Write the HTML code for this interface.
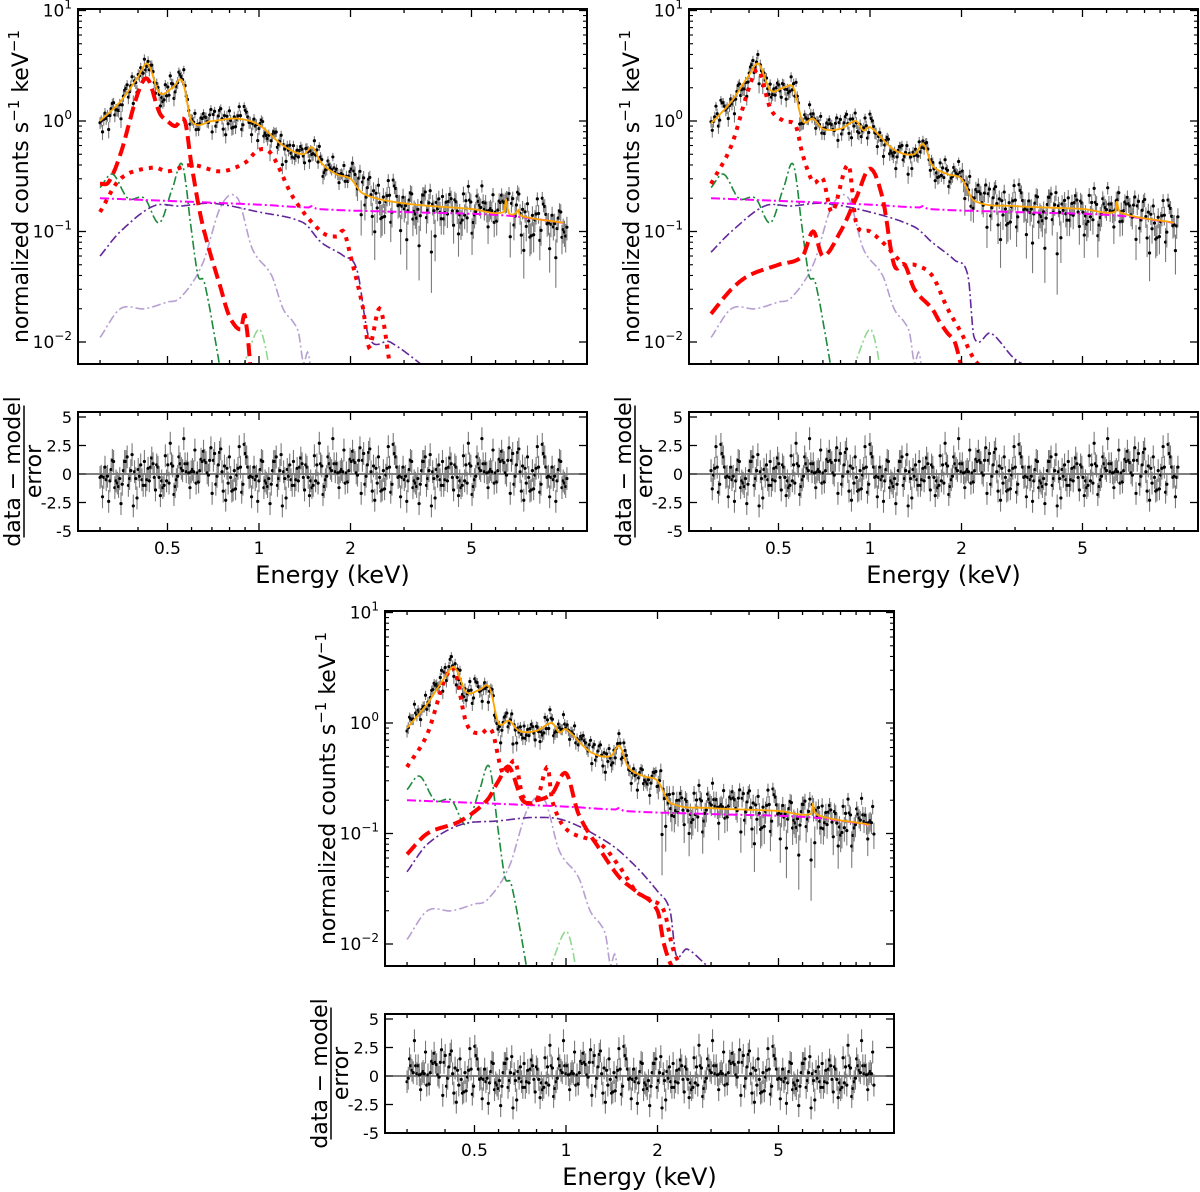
<!DOCTYPE html>
<html><head><meta charset="utf-8">
<style>
html,body{margin:0;padding:0;background:#fff;}
svg{display:block;font-family:"DejaVu Sans","Liberation Sans",sans-serif;}
</style></head>
<body>
<svg id="fig" width="1200" height="1192" viewBox="0 0 1200 1192" xmlns="http://www.w3.org/2000/svg"></svg>
<script>
// ---------- data (energy keV, normalized counts s^-1 keV^-1) ----------
const p1Total=[[0.3,1.0],[0.35,1.5],[0.4,2.5],[0.43,3.3],[0.47,1.8],[0.52,2.0],[0.56,2.3],[0.6,1.0],[0.7,1.0],[0.85,1.05],[1.0,0.92],[1.2,0.6],[1.4,0.5],[1.5,0.58],[1.6,0.42],[1.8,0.33],[2.0,0.3],[2.2,0.22],[3,0.18],[5,0.16],[6.4,0.15],[6.5,0.2],[6.6,0.15],[7,0.145],[7.1,0.16],[7.2,0.14],[10,0.12]];
const p1RedDashed=[[0.3,0.27],[0.32,0.28],[0.35,0.5],[0.4,1.8],[0.43,2.4],[0.47,1.2],[0.5,1.0],[0.53,0.9],[0.57,1.0],[0.6,0.4],[0.65,0.12],[0.75,0.03],[0.8,0.017],[0.87,0.013],[0.9,0.017],[0.95,0.004]];
const p1RedDotted=[[0.3,0.15],[0.35,0.3],[0.45,0.38],[0.5,0.35],[0.6,0.4],[0.75,0.35],[0.9,0.42],[1.0,0.55],[1.1,0.5],[1.3,0.2],[1.6,0.1],[1.8,0.09],[1.9,0.1],[2.0,0.06],[2.2,0.02],[2.3,0.009],[2.5,0.02],[2.7,0.006]];
const p1Purple=[[0.3,0.06],[0.35,0.1],[0.45,0.17],[0.55,0.17],[0.7,0.18],[1.0,0.15],[1.4,0.12],[1.6,0.08],[1.9,0.06],[2.1,0.045],[2.3,0.011],[2.7,0.01],[3.8,0.005]];
const p2Total=[[0.3,0.95],[0.35,1.5],[0.4,2.6],[0.43,3.3],[0.47,1.9],[0.52,2.0],[0.56,2.0],[0.6,1.0],[0.65,1.05],[0.7,0.85],[0.8,0.85],[0.9,1.0],[0.95,0.82],[1.0,0.88],[1.2,0.55],[1.4,0.5],[1.5,0.62],[1.6,0.4],[1.8,0.33],[2.0,0.3],[2.2,0.19],[3,0.17],[5,0.16],[6.4,0.15],[6.5,0.19],[6.6,0.15],[10,0.12]];
const p2RedDotted=[[0.3,0.27],[0.35,0.6],[0.4,2.0],[0.43,2.9],[0.47,1.3],[0.52,1.0],[0.57,0.9],[0.6,0.5],[0.65,0.28],[0.7,0.3],[0.75,0.15],[0.85,0.4],[0.9,0.12],[1.0,0.1],[1.1,0.08],[1.3,0.05],[1.4,0.05],[1.6,0.04],[1.8,0.02],[2.0,0.012],[2.2,0.007],[2.5,0.005]];
const p2RedDashed=[[0.3,0.018],[0.35,0.03],[0.4,0.04],[0.5,0.05],[0.6,0.06],[0.65,0.1],[0.7,0.06],[0.8,0.1],[0.9,0.2],[1.0,0.37],[1.1,0.2],[1.2,0.05],[1.3,0.05],[1.4,0.03],[1.6,0.02],[1.7,0.015],[1.8,0.012],[1.9,0.01],[2.0,0.006],[2.1,0.004]];
const p2Purple=[[0.3,0.065],[0.35,0.1],[0.45,0.17],[0.55,0.17],[0.7,0.18],[1.0,0.15],[1.4,0.11],[1.6,0.08],[1.9,0.055],[2.1,0.04],[2.2,0.011],[2.5,0.012],[3,0.007],[3.8,0.005]];
const p3Total=[[0.3,0.9],[0.35,1.5],[0.4,2.6],[0.43,3.2],[0.47,1.9],[0.52,2.0],[0.56,2.1],[0.6,1.0],[0.65,1.05],[0.7,0.85],[0.8,0.85],[0.9,1.0],[0.95,0.82],[1.0,0.88],[1.2,0.55],[1.4,0.5],[1.5,0.62],[1.6,0.4],[1.8,0.33],[2.0,0.3],[2.2,0.19],[3,0.17],[5,0.16],[6.4,0.15],[6.5,0.19],[6.6,0.15],[10,0.12]];
const p3RedDotted=[[0.3,0.4],[0.35,0.8],[0.4,2.5],[0.43,3.0],[0.47,1.0],[0.52,0.8],[0.57,0.85],[0.62,0.35],[0.68,0.45],[0.72,0.22],[0.8,0.2],[0.87,0.4],[0.9,0.2],[1.0,0.11],[1.3,0.08],[1.5,0.05],[1.7,0.03],[1.9,0.025],[2.1,0.02],[2.25,0.009],[2.5,0.005]];
const p3RedDashed=[[0.3,0.065],[0.35,0.1],[0.45,0.13],[0.55,0.2],[0.6,0.3],[0.65,0.4],[0.72,0.2],[0.8,0.2],[0.9,0.23],[1.0,0.35],[1.1,0.15],[1.3,0.07],[1.5,0.04],[1.7,0.03],[2.0,0.02],[2.1,0.01],[2.25,0.006],[2.5,0.005]];
const p3Purple=[[0.3,0.045],[0.35,0.08],[0.45,0.12],[0.6,0.13],[0.8,0.14],[1.0,0.13],[1.4,0.08],[1.7,0.05],[2.0,0.03],[2.2,0.02],[2.3,0.008],[2.5,0.009],[3,0.006],[3.6,0.005]];
const greenComp=[[0.3,0.25],[0.33,0.33],[0.37,0.2],[0.42,0.2],[0.47,0.12],[0.52,0.25],[0.56,0.4],[0.6,0.1],[0.63,0.04],[0.66,0.035],[0.72,0.01],[0.76,0.004]];
const lightPurpleComp=[[0.3,0.011],[0.35,0.02],[0.42,0.02],[0.5,0.023],[0.55,0.025],[0.65,0.05],[0.75,0.17],[0.85,0.2],[0.95,0.07],[1.1,0.04],[1.2,0.02],[1.3,0.015],[1.35,0.012],[1.4,0.0065],[1.45,0.008],[1.5,0.004]];
const lightGreenComp=[[0.85,0.004],[0.92,0.008],[1.0,0.013],[1.05,0.009],[1.1,0.004]];
const magentaComp=[[0.3,0.2],[1.0,0.175],[1.45,0.165],[1.5,0.17],[1.55,0.16],[3,0.15],[6.4,0.14],[10,0.12]];
const residuals=[-0.3,-1,-0.8,-1,0.1,-0.9,0.2,-0.2,1.6,1.5,1.1,-0.1,0.3,0.9,-2,-0.6,-0.3,-1,1.2,1.1,0.1,-0.3,0.8,-1.5,-0.5,2.3,1.1,-1.2,0.6,-0.8,-1.4,0.5,-1.7,1.5,0.2,-0.5,2.7,0.3,-0.6,1.2,-1,0.4,-0.2,0.9,-1.3,0.6,1.8,-0.4,0.2,-2.4,0.7,-0.1,1.4,-0.9,0.3,2.1,-0.6,-1.8,0.5,0.9,-0.2,1.7,-0.8,0.4,-1.1,2.4,-0.3,0.8,-2.8,0.1,1.2,-0.5,0.6,-1.4,1.9,0.2,-0.7,1.1,-0.2,-1.6,0.8,2.2,-0.4,0.3,-1.2,1.5,-0.9,0.6,0.2,-2.1,1.3,-0.6,0.9,2.6,-0.3,-1.5,0.4,1.1,-0.8,0.5,1.8,-1.9,0.7,-0.2,2.0,-1.1,0.3,1.5,-0.6,-2.3,0.8,1.2,-0.4,3.1,0.6,-1.2,0.5,-0.5,1.0,-2.6,0.9];
const xTickValues=[0.5,1,2,5];
const xTickLabels=["0.5","1","2","5"];
const yDecades=[-2,-1,0,1];
const residTickValues=[5,2.5,0,-2.5,-5];
const residTickLabels=["5","2.5","0","-2.5","-5"];

// ---------- drawing ----------
const NS="http://www.w3.org/2000/svg";
const svg=document.getElementById('fig');
function mk(tag,attrs,parent){const e=document.createElementNS(NS,tag);for(const k in attrs)e.setAttribute(k,attrs[k]);(parent||svg).appendChild(e);return e;}
const L=78,R=587,T=9,B=364,RT=412,RB=531;
function xs(E){return 259+304*Math.log10(E);}
function ys(v){return 121-110.5*Math.log10(v);}
function rs(r){return 474-11.4*r;}
function interp(arr,E){
  if(E<=arr[0][0])return arr[0][1];
  const n=arr.length;
  if(E>=arr[n-1][0])return arr[n-1][1];
  const lx=Math.log(E);
  for(let i=1;i<n;i++){if(E<=arr[i][0]){
    const X=k=>Math.log(arr[Math.max(0,Math.min(n-1,k))][0]);
    const Y=k=>Math.log(arr[Math.max(0,Math.min(n-1,k))][1]);
    const x1=X(i-1),x2=X(i),y1=Y(i-1),y2=Y(i);
    const t=(lx-x1)/(x2-x1);
    const s1=(i-2>=0)?(y2-Y(i-2))/(x2-X(i-2)):(y2-y1)/(x2-x1);
    const s2=(i+1<n)?(Y(i+1)-y1)/(X(i+1)-x1):(y2-y1)/(x2-x1);
    const h=x2-x1,t2=t*t,t3=t2*t;
    const y=(2*t3-3*t2+1)*y1+(t3-2*t2+t)*h*s1+(-2*t3+3*t2)*y2+(t3-t2)*h*s2;
    return Math.exp(y);
  }}
}
function curvePath(arr){
  let d='';const E0=arr[0][0],E1=arr[arr.length-1][0];const n=300;
  for(let i=0;i<=n;i++){const E=E0*Math.pow(E1/E0,i/n);d+=(i?'L':'M')+xs(E).toFixed(1)+','+ys(interp(arr,E)).toFixed(1);}
  return d;
}
const styles={
  lightPurple:{stroke:'#b79fd2','stroke-width':1.6,'stroke-dasharray':'9,3,2,3'},
  lightGreen:{stroke:'#8fd88f','stroke-width':1.6,'stroke-dasharray':'9,3,2,3'},
  green:{stroke:'#1b8a3a','stroke-width':1.6,'stroke-dasharray':'9,3,2,3'},
  purple:{stroke:'#64279a','stroke-width':1.6,'stroke-dasharray':'9,3,2,3'},
  magenta:{stroke:'#ff00ff','stroke-width':2,'stroke-dasharray':'9,3,2,3'},
  redDashed:{stroke:'#ff0000','stroke-width':4,'stroke-dasharray':'13,6'},
  redDotted:{stroke:'#ff0000','stroke-width':4,'stroke-dasharray':'4,6'},
  total:{stroke:'#ffa500','stroke-width':1.8}
};
function drawPanel(idx,ox,oy,total,redDashed,redDotted,purple,shift){
  const g=mk('g',{transform:`translate(${ox},${oy})`});
  
  
  const cid='clip'+idx;
  const cp=mk('clipPath',{id:cid},g);mk('rect',{x:L,y:T,width:R-L,height:B-T},cp);
  const cpr=mk('clipPath',{id:cid+'r'},g);mk('rect',{x:L,y:RT,width:R-L,height:RB-RT},cpr);
  const plot=mk('g',{'clip-path':`url(#${cid})`},g);
  
  
  const N=380,Emin=0.3,Emax=10.3;
  const dg=mk('g',{},plot);
  
  
  const rg=mk('g',{'clip-path':`url(#${cid}r)`},g);
  
  
  mk('line',{x1:L,x2:R,y1:rs(0),y2:rs(0),stroke:'#000','stroke-width':1},rg);
  for(let i=0;i<N;i++){
    const E=Emin*Math.pow(Emax/Emin,i/(N-1));
    const r=residuals[(i*7+shift)%residuals.length];
    const m=interp(total,E);
    const f=E<2?0.12:0.22;
    const v=m*(1+f*r),e=m*f;
    const x=xs(E);
    mk('line',{x1:x,x2:x,y1:ys(v+e),y2:ys(Math.max(v-e,1e-4)),stroke:'#7a7a7a','stroke-width':1.1},dg);
    mk('circle',{cx:x,cy:ys(v),r:1.6,fill:'#000'},dg);
    mk('line',{x1:x,x2:x,y1:rs(r+1),y2:rs(r-1),stroke:'#7a7a7a','stroke-width':1.1},rg);
    mk('circle',{cx:x,cy:rs(r),r:1.6,fill:'#000'},rg);
  }
  const comps=[['light-purple-component',lightPurpleComp,'lightPurple'],['light-green-component',lightGreenComp,'lightGreen'],['green-component',greenComp,'green'],['purple-component',purple,'purple'],['magenta-powerlaw',magentaComp,'magenta'],['red-dashed-component',redDashed,'redDashed'],['red-dotted-component',redDotted,'redDotted'],['total-model',total,'total']];
  for(const [name,arr,st] of comps){
    const p=mk('path',Object.assign({d:curvePath(arr),fill:'none'},styles[st]),plot);
    
    
  }
  const f1=mk('rect',{x:L,y:T,width:R-L,height:B-T,fill:'none',stroke:'#000','stroke-width':2},g);
  
  
  const f2=mk('rect',{x:L,y:RT,width:R-L,height:RB-RT,fill:'none',stroke:'#000','stroke-width':2},g);
  
  
  const minor=[0.3,0.4,0.6,0.7,0.8,0.9,3,4,6,7,8,9,10];
  function xt(E,len){const x=xs(E);
    for(const [y0,dir] of [[B,-1],[T,1],[RB,-1],[RT,1]])mk('line',{x1:x,x2:x,y1:y0,y2:y0+dir*len,stroke:'#000','stroke-width':1.3},g);}
  xTickValues.forEach(E=>xt(E,8));minor.forEach(E=>xt(E,4));
  xTickValues.forEach((E,i)=>{const t=mk('text',{x:xs(E),y:RB+23,'text-anchor':'middle','font-size':17},g);t.textContent=xTickLabels[i];
    });
  yDecades.forEach(d=>{
    const y=ys(Math.pow(10,d));
    for(const [x0,dir] of [[L,1],[R,-1]])mk('line',{x1:x0,x2:x0+dir*8,y1:y,y2:y,stroke:'#000','stroke-width':1.3},g);
    for(let k=2;k<10;k++){const yy=ys(k*Math.pow(10,d));if(yy<T||yy>B)continue;
      for(const [x0,dir] of [[L,1],[R,-1]])mk('line',{x1:x0,x2:x0+dir*4,y1:yy,y2:yy,stroke:'#000','stroke-width':1.1},g);}
    const t=mk('text',{x:L-6,y:y+6,'text-anchor':'end','font-size':17},g);
    
    t.appendChild(document.createTextNode('10'));
    const s=mk('tspan',{dy:-8,'font-size':12},t);s.textContent=String(d).replace('-','\u2212');
  });
  residTickValues.forEach((v,i)=>{const y=rs(v);
    for(const [x0,dir] of [[L,1],[R,-1]])mk('line',{x1:x0,x2:x0+dir*8,y1:y,y2:y,stroke:'#000','stroke-width':1.3},g);
    const t=mk('text',{x:L-6,y:y+6,'text-anchor':'end','font-size':16},g);t.textContent=residTickLabels[i];
    });
  const yl=mk('text',{transform:`translate(28,${(T+B)/2}) rotate(-90)`,'text-anchor':'middle','font-size':22},g);
  
  yl.appendChild(document.createTextNode('normalized counts s'));
  let s1=mk('tspan',{dy:-9,'font-size':15},yl);s1.textContent='\u22121';
  let s2=mk('tspan',{dy:9},yl);s2.textContent=' keV';
  let s3=mk('tspan',{dy:-9,'font-size':15},yl);s3.textContent='\u22121';
  const rl=mk('g',{transform:`translate(24,${(RT+RB)/2}) rotate(-90)`},g);
  
  const a=mk('text',{x:0,y:-4,'text-anchor':'middle','font-size':22},rl);a.textContent='data \u2212 model';
  mk('line',{x1:-66,x2:66,y1:0,y2:0,stroke:'#000','stroke-width':1.5},rl);
  const b=mk('text',{x:0,y:17,'text-anchor':'middle','font-size':22},rl);b.textContent='error';
  const xl=mk('text',{x:(L+R)/2,y:RB+52,'text-anchor':'middle','font-size':24},g);
  
  xl.textContent='Energy (keV)';
}
drawPanel(1,0,0,p1Total,p1RedDashed,p1RedDotted,p1Purple,0);
drawPanel(2,611,0,p2Total,p2RedDashed,p2RedDotted,p2Purple,37);
drawPanel(3,307,602,p3Total,p3RedDashed,p3RedDotted,p3Purple,71);
</script>
</body></html>
